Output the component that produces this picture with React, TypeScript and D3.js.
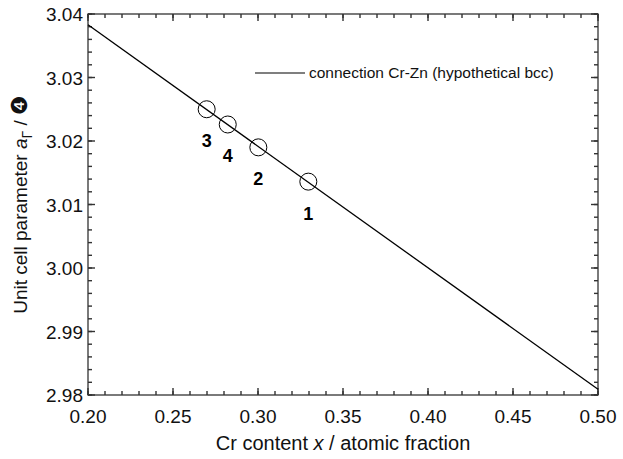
import React from "react";
import * as d3 from "d3";

const lineX = [0.2, 0.5];
const lineY = [3.0383, 2.9809];
const pointLabels = ["3", "4", "2", "1"];
const pointX = [0.2698, 0.2822, 0.3002, 0.3296];
const pointY = [3.025, 3.0226, 3.019, 3.0136];
const xTicks = [0.2, 0.25, 0.3, 0.35, 0.4, 0.45, 0.5];
const yTicks = [2.98, 2.99, 3.0, 3.01, 3.02, 3.03, 3.04];
const legendLabel = "connection Cr-Zn (hypothetical bcc)";

const W = 623, H = 459;
const M = { left: 88, right: 598, top: 14, bottom: 395 };
const FONT = "'Liberation Sans', Arial, sans-serif";

export default function App() {
  const x = d3.scaleLinear().domain([0.2, 0.5]).range([M.left, M.right]);
  const y = d3.scaleLinear().domain([2.98, 3.04]).range([M.bottom, M.top]);
  const xMinor = d3.range(0, 31).map((i) => 0.2 + i * 0.01);
  const yMinor = d3.range(0, 31).map((i) => 2.98 + i * 0.002);
  const axisColor = "#333";
  const tw = 1.4;
  const line = d3.line<number>().x((_, i) => x(lineX[i])).y((d) => y(d));

  return (
    <svg width={W} height={H} style={{ position: "absolute", left: 0, top: 0, background: "#fff" }} fontFamily={FONT}>
      <rect x={0} y={0} width={W} height={H} fill="#fff" />
      {xMinor.map((v, i) => (
        <rect key={"xmb" + i} x={x(v) - tw / 2} y={M.bottom - 4} width={tw} height={4} fill={axisColor} />
      ))}
      {xMinor.map((v, i) => (
        <rect key={"xmt" + i} x={x(v) - tw / 2} y={M.top} width={tw} height={4} fill={axisColor} />
      ))}
      {xTicks.map((v, i) => (
        <rect key={"xMb" + i} x={x(v) - tw / 2} y={M.bottom - 7} width={tw} height={7} fill={axisColor} />
      ))}
      {xTicks.map((v, i) => (
        <rect key={"xMt" + i} x={x(v) - tw / 2} y={M.top} width={tw} height={7} fill={axisColor} />
      ))}
      {yMinor.map((v, i) => (
        <rect key={"yml" + i} x={M.left} y={y(v) - tw / 2} width={4} height={tw} fill={axisColor} />
      ))}
      {yMinor.map((v, i) => (
        <rect key={"ymr" + i} x={M.right - 4} y={y(v) - tw / 2} width={4} height={tw} fill={axisColor} />
      ))}
      {yTicks.map((v, i) => (
        <rect key={"yMl" + i} x={M.left} y={y(v) - tw / 2} width={7} height={tw} fill={axisColor} />
      ))}
      {yTicks.map((v, i) => (
        <rect key={"yMr" + i} x={M.right - 7} y={y(v) - tw / 2} width={7} height={tw} fill={axisColor} />
      ))}
      {xTicks.map((v, i) => (
        <text key={"xt" + i} x={x(v)} y={M.bottom + 28} textAnchor="middle" fontSize={19} fill="#111">
          {v.toFixed(2)}
        </text>
      ))}
      {yTicks.map((v, i) => (
        <text key={"yt" + i} x={M.left - 5} y={y(v) + 7} textAnchor="end" fontSize={19} fill="#111">
          {v.toFixed(2)}
        </text>
      ))}
      <rect x={M.left} y={M.top} width={M.right - M.left} height={M.bottom - M.top} fill="none" stroke={axisColor} strokeWidth={1.3} />
      <path d={line(lineY) || ""} fill="none" stroke="#000" strokeWidth={1.3} />
      {pointX.map((px, i) => (
        <g key={"p" + i}>
          <circle cx={x(px)} cy={y(pointY[i])} r={8.5} fill="none" stroke="#000" strokeWidth={1} />
          <text x={x(px)} y={y(pointY[i]) + 38} textAnchor="middle" fontSize={18} fontWeight="bold" fill="#000">
            {pointLabels[i]}
          </text>
        </g>
      ))}
      <line x1={255} x2={305} y1={73} y2={73} stroke="#000" strokeWidth={1.2} />
      <text x={309} y={78} fontSize={15.5} fill="#111">{legendLabel}</text>
      <text x={(M.left + M.right) / 2} y={450} textAnchor="middle" fontSize={20} fill="#111">
        Cr content <tspan fontStyle="italic">x</tspan> / atomic fraction
      </text>
      <text transform={`translate(27, ${(M.top + M.bottom) / 2}) rotate(-90)`} textAnchor="middle" fontSize={19} fill="#111">
        Unit cell parameter <tspan fontStyle="italic">a</tspan>
        <tspan fontSize={14} dy={5}>Γ</tspan>
        <tspan dy={-5}> / </tspan>
        <tspan fontFamily="'DejaVu Sans'" fontSize={22}>❹</tspan>
      </text>
    </svg>
  );
}
